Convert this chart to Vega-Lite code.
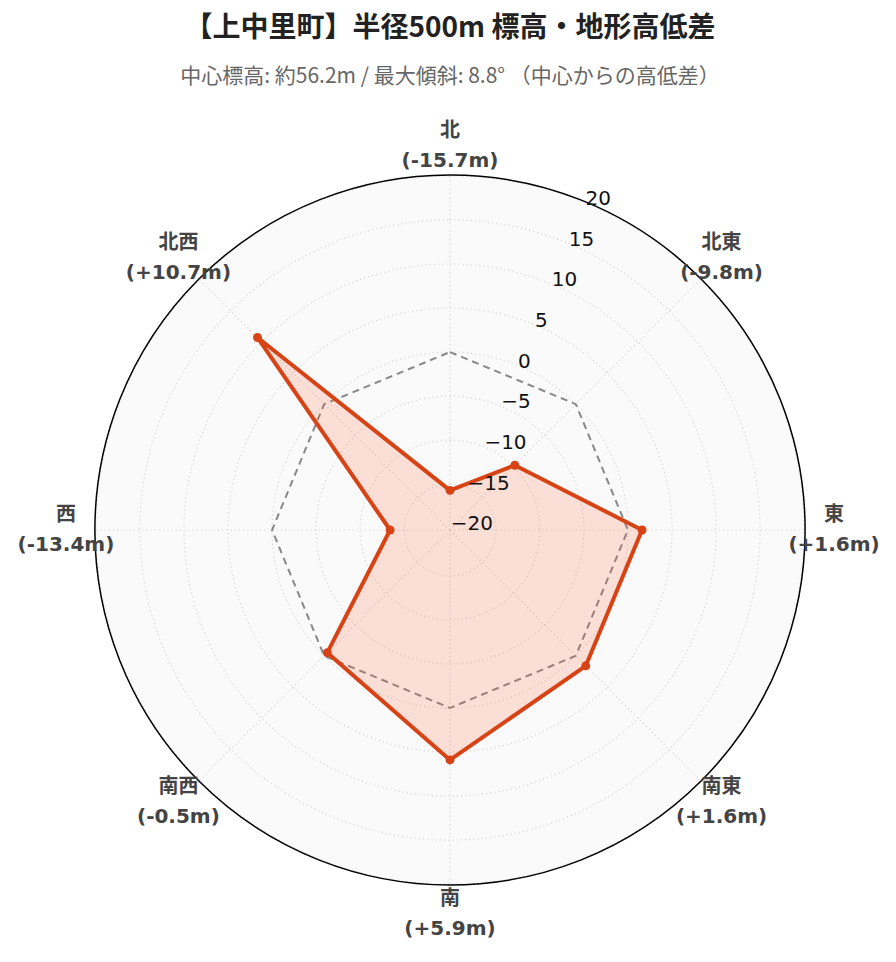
{
  "$schema": "https://vega.github.io/schema/vega-lite/v6.json",
  "width": 710,
  "height": 710,
  "autosize": {"type": "none"},
  "padding": {"left": 95, "top": 175, "right": 91, "bottom": 77},
  "background": "white",
  "config": {"view": {"stroke": null}, "font": "DejaVu Sans, Noto Sans CJK JP"},
  "title": {
    "text": "【上中里町】半径500m 標高・地形高低差",
    "subtitle": "中心標高: 約56.2m / 最大傾斜: 8.8° （中心からの高低差）",
    "frame": "group",
    "anchor": "middle",
    "font": "Noto Sans CJK JP",
    "fontSize": 28,
    "fontWeight": "bold",
    "color": "#222222",
    "subtitleFont": "Noto Sans CJK JP",
    "subtitleFontSize": 21,
    "subtitleColor": "#666666",
    "subtitlePadding": 23,
    "offset": 34
  },
  "datasets": {
    "dirs": [
      {"i": 0, "dir": "北", "v": -15.7, "label": "北\n(-15.7m)"},
      {"i": 1, "dir": "北東", "v": -9.8, "label": "北東\n(-9.8m)"},
      {"i": 2, "dir": "東", "v": 1.6, "label": "東\n(+1.6m)"},
      {"i": 3, "dir": "南東", "v": 1.6, "label": "南東\n(+1.6m)"},
      {"i": 4, "dir": "南", "v": 5.9, "label": "南\n(+5.9m)"},
      {"i": 5, "dir": "南西", "v": -0.5, "label": "南西\n(-0.5m)"},
      {"i": 6, "dir": "西", "v": -13.4, "label": "西\n(-13.4m)"},
      {"i": 7, "dir": "北西", "v": 10.7, "label": "北西\n(+10.7m)"}
    ],
    "ticks": [
      {"v": -20, "t": "−20"},
      {"v": -15, "t": "−15"},
      {"v": -10, "t": "−10"},
      {"v": -5, "t": "−5"},
      {"v": 0, "t": "0"},
      {"v": 5, "t": "5"},
      {"v": 10, "t": "10"},
      {"v": 15, "t": "15"},
      {"v": 20, "t": "20"}
    ],
    "outer": [{"r": 40.3}]
  },
  "layer": [
    {
      "data": {"name": "outer"},
      "mark": {"type": "arc", "theta": 0, "theta2": 6.2832, "fill": "#fafafa"},
      "encoding": {
        "radius": {"field": "r", "type": "quantitative", "stack": null, "scale": {"type": "linear", "domain": [0, 40.3], "range": [0, 355], "zero": true, "nice": false}}
      }
    },
    {
      "data": {"name": "ticks"},
      "transform": [{"filter": "datum.v > -20"}, {"calculate": "datum.v + 20.2", "as": "d"}],
      "mark": {"type": "arc", "theta": 0, "theta2": 6.2832, "filled": false, "stroke": "#d6d6d6", "strokeWidth": 1.2, "strokeDash": [1.2, 3]},
      "encoding": {
        "radius": {"field": "d", "type": "quantitative", "stack": null, "scale": {"type": "linear", "domain": [0, 40.3], "range": [0, 355], "zero": true, "nice": false}}
      }
    },
    {
      "data": {"name": "dirs"},
      "transform": [
        {"calculate": "0", "as": "c"},
        {"calculate": "40.3 * sin(datum.i * PI / 4)", "as": "ax"},
        {"calculate": "40.3 * cos(datum.i * PI / 4)", "as": "ay"}
      ],
      "mark": {"type": "rule", "stroke": "#d6d6d6", "strokeWidth": 1.2, "strokeDash": [1.2, 3]},
      "encoding": {
        "x": {"field": "c", "type": "quantitative", "scale": {"domain": [-40.3, 40.3], "nice": false, "zero": false}, "axis": null},
        "y": {"field": "c", "type": "quantitative", "scale": {"domain": [-40.3, 40.3], "nice": false, "zero": false}, "axis": null},
        "x2": {"field": "ax"},
        "y2": {"field": "ay"}
      }
    },
    {
      "data": {"name": "dirs"},
      "transform": [
        {"calculate": "20.2 * sin(datum.i * PI / 4)", "as": "ox"},
        {"calculate": "20.2 * cos(datum.i * PI / 4)", "as": "oy"}
      ],
      "mark": {"type": "line", "interpolate": "linear-closed", "stroke": "#888888", "strokeWidth": 2, "strokeDash": [7, 5]},
      "encoding": {
        "x": {"field": "ox", "type": "quantitative", "scale": {"domain": [-40.3, 40.3], "nice": false, "zero": false}, "axis": null},
        "y": {"field": "oy", "type": "quantitative", "scale": {"domain": [-40.3, 40.3], "nice": false, "zero": false}, "axis": null},
        "order": {"field": "i", "type": "quantitative"}
      }
    },
    {
      "data": {"name": "dirs"},
      "transform": [
        {"calculate": "(datum.v + 20.2) * sin(datum.i * PI / 4)", "as": "px"},
        {"calculate": "(datum.v + 20.2) * cos(datum.i * PI / 4)", "as": "py"}
      ],
      "mark": {"type": "line", "interpolate": "linear-closed", "stroke": "#D84315", "strokeWidth": 4, "fill": "#FF5722", "fillOpacity": 0.17, "strokeJoin": "round"},
      "encoding": {
        "x": {"field": "px", "type": "quantitative", "scale": {"domain": [-40.3, 40.3], "nice": false, "zero": false}, "axis": null},
        "y": {"field": "py", "type": "quantitative", "scale": {"domain": [-40.3, 40.3], "nice": false, "zero": false}, "axis": null},
        "order": {"field": "i", "type": "quantitative"}
      }
    },
    {
      "data": {"name": "dirs"},
      "transform": [
        {"calculate": "(datum.v + 20.2) * sin(datum.i * PI / 4)", "as": "px"},
        {"calculate": "(datum.v + 20.2) * cos(datum.i * PI / 4)", "as": "py"}
      ],
      "mark": {"type": "point", "filled": true, "size": 80, "color": "#D84315", "opacity": 1},
      "encoding": {
        "x": {"field": "px", "type": "quantitative", "scale": {"domain": [-40.3, 40.3], "nice": false, "zero": false}, "axis": null},
        "y": {"field": "py", "type": "quantitative", "scale": {"domain": [-40.3, 40.3], "nice": false, "zero": false}, "axis": null}
      }
    },
    {
      "data": {"name": "outer"},
      "mark": {"type": "arc", "theta": 0, "theta2": 6.2832, "filled": false, "stroke": "#000000", "strokeWidth": 1.5},
      "encoding": {
        "radius": {"field": "r", "type": "quantitative", "stack": null, "scale": {"type": "linear", "domain": [0, 40.3], "range": [0, 355], "zero": true, "nice": false}}
      }
    },
    {
      "data": {"name": "ticks"},
      "transform": [
        {"calculate": "(datum.v + 20.2) * sin(PI / 8)", "as": "tx"},
        {"calculate": "(datum.v + 20.2) * cos(PI / 8)", "as": "ty"}
      ],
      "mark": {"type": "text", "align": "left", "baseline": "alphabetic", "dy": 2, "fontSize": 20, "font": "DejaVu Sans", "color": "#111111"},
      "encoding": {
        "x": {"field": "tx", "type": "quantitative", "scale": {"domain": [-40.3, 40.3], "nice": false, "zero": false}, "axis": null},
        "y": {"field": "ty", "type": "quantitative", "scale": {"domain": [-40.3, 40.3], "nice": false, "zero": false}, "axis": null},
        "text": {"field": "t"}
      }
    },
    {
      "data": {"name": "dirs"},
      "transform": [
        {"calculate": "43.6 * sin(datum.i * PI / 4)", "as": "lx"},
        {"calculate": "43.6 * cos(datum.i * PI / 4)", "as": "ly"}
      ],
      "mark": {"type": "text", "align": "center", "baseline": "middle", "dy": -15, "lineBreak": "\n", "lineHeight": 30, "fontSize": 20, "fontWeight": "bold", "font": "DejaVu Sans, Noto Sans CJK JP", "color": "#444444"},
      "encoding": {
        "x": {"field": "lx", "type": "quantitative", "scale": {"domain": [-40.3, 40.3], "nice": false, "zero": false}, "axis": null},
        "y": {"field": "ly", "type": "quantitative", "scale": {"domain": [-40.3, 40.3], "nice": false, "zero": false}, "axis": null},
        "text": {"field": "label"}
      }
    }
  ]
}
